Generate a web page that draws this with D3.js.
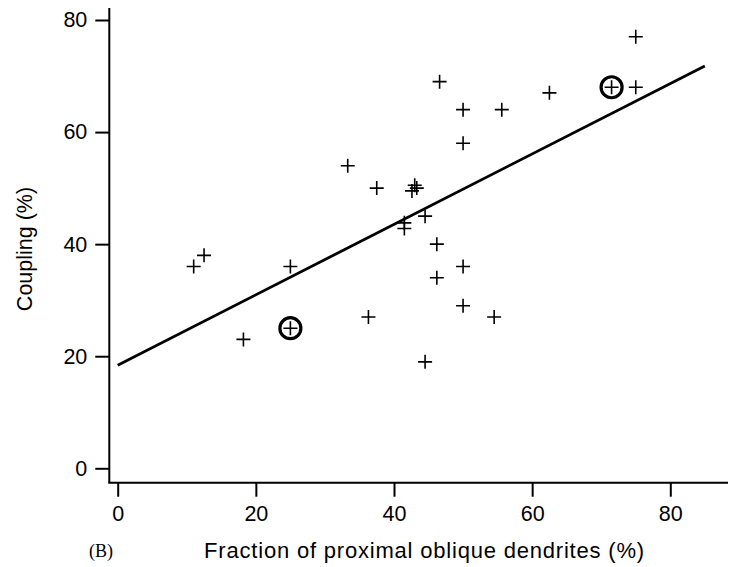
<!DOCTYPE html>
<html>
<head>
<meta charset="utf-8">
<script src="https://cdn.jsdelivr.net/npm/d3@7"></script>
<style>
  html, body { margin: 0; padding: 0; background: #fff; }
  svg { display: block; }
</style>
</head>
<body>
<svg id="chart" width="730" height="567"></svg>
<script>
// Data
const fractionX = [11, 12.5, 18.2, 25, 25, 33.3, 37.5, 36.3, 42.6, 43.0, 43.3, 41.5, 41.5, 44.5, 46.2, 46.2, 50, 50, 54.5, 44.5, 46.6, 50, 55.6, 50, 62.5, 71.5, 75, 75];
const couplingY = [36, 38, 23, 25, 36, 54, 50, 27, 49.5, 50.5, 50, 43.8, 42.8, 45, 40, 34, 36, 29, 27, 19, 69, 64, 64, 58, 67, 68, 68, 77];
const circledX = [25, 71.5];
const circledY = [25, 68];
const fitX = [0, 85];
const fitY = [18.4, 71.8];
const xTicks = [0, 20, 40, 60, 80];
const yTicks = [0, 20, 40, 60, 80];
const xLabel = "Fraction of proximal oblique dendrites (%)";
const yLabel = "Coupling (%)";
const panelLabel = "(B)";

const svg = d3.select("#chart");
const font = "'Liberation Sans', Arial, Helvetica, sans-serif";

const xBase = d3.scaleLinear().domain([0, 80]).range([117.7, 670.3]);
const yBase = d3.scaleLinear().domain([0, 80]).range([468.3, 20]);
const x = d3.scaleLinear().domain([xBase.invert(109.3), xBase.invert(728)]).range([109.3, 728]);
const y = d3.scaleLinear().domain([yBase.invert(482.7), yBase.invert(8)]).range([482.7, 8]);

// X axis
const gx = svg.append("g").attr("transform", "translate(0,482.7)")
  .call(d3.axisBottom(x).tickValues(xTicks).tickSizeOuter(0).tickSize(14).tickPadding(9).tickFormat(d3.format("d")));
gx.select(".domain").remove();
gx.selectAll(".tick line").attr("stroke-width", 2);
gx.selectAll(".tick text").attr("font-family", font).attr("font-size", 21.5).attr("fill", "#000");

// Y axis
const gy = svg.append("g").attr("transform", "translate(109.3,0)")
  .call(d3.axisLeft(y).tickValues(yTicks).tickSizeOuter(0).tickSize(14).tickPadding(8).tickFormat(d3.format("d")));
gy.select(".domain").remove();
gy.selectAll(".tick line").attr("stroke-width", 2);
gy.selectAll(".tick text").attr("font-family", font).attr("font-size", 21.5).attr("fill", "#000");

// Axis lines
svg.append("line").attr("x1", x.range()[0] - 1).attr("x2", x.range()[1]).attr("y1", y.range()[0]).attr("y2", y.range()[0])
  .attr("stroke", "#000").attr("stroke-width", 2);
svg.append("line").attr("x1", x.range()[0]).attr("x2", x.range()[0]).attr("y1", y.range()[0]).attr("y2", y.range()[1])
  .attr("stroke", "#000").attr("stroke-width", 2);

// Fit line
const line = d3.line().x(d => x(d[0])).y(d => y(d[1]));
svg.append("path")
  .datum(fitX.map((v, i) => [v, fitY[i]]))
  .attr("d", line)
  .attr("fill", "none").attr("stroke", "#000").attr("stroke-width", 2.8);

// Crosses
const pts = fractionX.map((v, i) => [v, couplingY[i]]);
const h = 7;
svg.append("g").selectAll("path.cross").data(pts).join("path")
  .attr("class", "cross")
  .attr("d", d => {
    const cx = x(d[0]), cy = y(d[1]);
    return `M${cx - h},${cy}H${cx + h}M${cx},${cy - h}V${cy + h}`;
  })
  .attr("stroke", "#000").attr("stroke-width", 1.6).attr("fill", "none");

// Circles
svg.append("g").selectAll("circle").data(circledX.map((v, i) => [v, circledY[i]])).join("circle")
  .attr("cx", d => x(d[0])).attr("cy", d => y(d[1])).attr("r", 10.5)
  .attr("fill", "none").attr("stroke", "#000").attr("stroke-width", 3.2);

// Labels
svg.append("text")
  .attr("x", 424.5).attr("y", 557.5)
  .attr("text-anchor", "middle")
  .attr("font-family", font).attr("font-size", 22).attr("letter-spacing", 0.8)
  .text(xLabel);

svg.append("text")
  .attr("transform", "translate(31.5,249) rotate(-90)")
  .attr("text-anchor", "middle")
  .attr("font-family", font).attr("font-size", 21.5)
  .text(yLabel);

svg.append("text")
  .attr("x", 89).attr("y", 557)
  .attr("font-family", "'Liberation Serif', 'Times New Roman', serif").attr("font-size", 18)
  .text(panelLabel);
</script>
</body>
</html>
